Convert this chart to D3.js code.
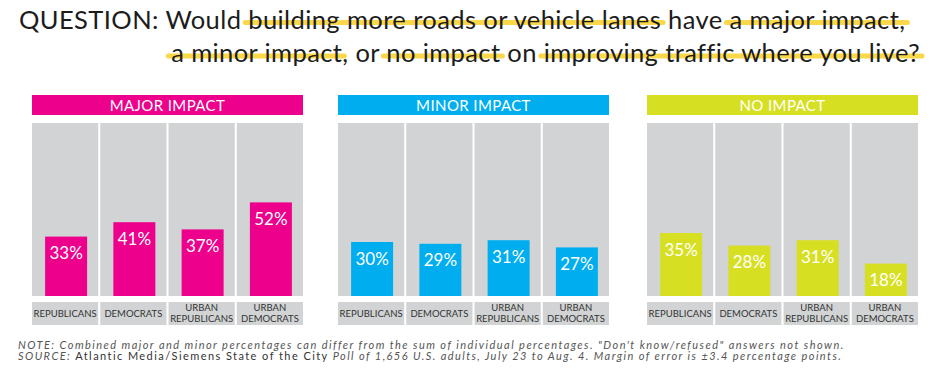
<!DOCTYPE html>
<html>
<head>
<meta charset="utf-8">
<script src="https://cdn.jsdelivr.net/npm/d3@7"></script>
<style>
  html, body { margin: 0; padding: 0; background: #fff; }
  svg { display: block; }
</style>
</head>
<body>
<svg id="chart" width="940" height="369"></svg>
<script>
// ---------------- DATA ----------------
const categories = ["REPUBLICANS", "DEMOCRATS", "URBAN REPUBLICANS", "URBAN DEMOCRATS"];
const categoryLines = [["REPUBLICANS"], ["DEMOCRATS"], ["URBAN", "REPUBLICANS"], ["URBAN", "DEMOCRATS"]];
const panelTitles = ["MAJOR IMPACT", "MINOR IMPACT", "NO IMPACT"];
const majorImpact = [33, 41, 37, 52];
const minorImpact = [30, 29, 31, 27];
const noImpact = [35, 28, 31, 18];
const panelColors = ["#ec008c", "#00aeef", "#d7df23"];
const titleLine1 = [
  { t: "QUESTION: Would ", hl: false },
  { t: "building more roads or vehicle lanes", hl: true },
  { t: " have ", hl: false },
  { t: "a major impact,", hl: true }
];
const titleLine2 = [
  { t: "a minor impact", hl: true },
  { t: ", or ", hl: false },
  { t: "no impact", hl: true },
  { t: " on ", hl: false },
  { t: "improving traffic where you live?", hl: true }
];
const noteLine = [
  { t: "NOTE: Combined major and minor percentages can differ from the sum of individual percentages. \"Don't know/refused\" answers not shown.", it: true }
];
const sourceLine = [
  { t: "SOURCE: ", it: true },
  { t: "Atlantic Media/Siemens State of the City", it: false },
  { t: " Poll of 1,656 U.S. adults, July 23 to Aug. 4. Margin of error is \u00b13.4 percentage points.", it: true }
];

// ---------------- LAYOUT ----------------
const FONT = "Lato, 'Open Sans', sans-serif";
const svg = d3.select("#chart");
const panelSeries = [majorImpact, minorImpact, noImpact];
const panelX = [32, 338, 647];
const panelW = 271;

const y = d3.scaleLinear().domain([0, 100]).range([296, 116]);
const plotTop = 123, plotBottom = 296;
const labelTop = 302, labelBottom = 325;

function fitSpacing(text, width) {
  const node = text.node();
  const w = node.getComputedTextLength();
  const n = node.getNumberOfChars();
  text.attr("letter-spacing", (width - w) / Math.max(1, n - 1));
}

// Title
function drawTitleLine(segments, opts) {
  const g = svg.append("g");
  const hlG = g.append("g");
  const text = g.append("text")
    .attr("x", opts.x).attr("y", opts.y)
    .attr("font-family", FONT)
    .attr("font-size", opts.fs)
    .attr("fill", "#1c1c1c")
    .attr("text-anchor", opts.anchor);
  segments.forEach(s => text.append("tspan").text(s.t));
  fitSpacing(text, opts.width);
  const node = text.node();
  let idx = 0;
  segments.forEach(s => {
    if (s.hl) {
      const st = node.getStartPositionOfChar(idx).x;
      const en = node.getEndPositionOfChar(idx + s.t.length - 1).x;
      hlG.append("line")
        .attr("x1", st - 3).attr("x2", en + 2)
        .attr("y1", opts.y - opts.hlOff).attr("y2", opts.y - opts.hlOff)
        .attr("stroke", "#fbd849")
        .attr("stroke-width", 5)
        .attr("stroke-linecap", "round");
    }
    idx += s.t.length;
  });
}
drawTitleLine(titleLine1, { x: 19, y: 29, fs: 25.5, anchor: "start", width: 886, hlOff: 6.5 });
drawTitleLine(titleLine2, { x: 920, y: 62, fs: 25.5, anchor: "end", width: 747, hlOff: 6 });

// Panels
panelTitles.forEach((title, pi) => {
  const data = panelSeries[pi];
  const color = panelColors[pi];
  const x0 = panelX[pi];
  const x = d3.scaleBand().domain(categories).range([x0, x0 + panelW]).paddingInner(0.03).paddingOuter(0);
  const g = svg.append("g");

  // header
  g.append("rect").attr("x", x0).attr("y", 95).attr("width", panelW).attr("height", 20).attr("fill", color);
  g.append("text")
    .attr("x", x0 + panelW / 2).attr("y", 110.5)
    .attr("text-anchor", "middle")
    .attr("font-family", FONT).attr("font-size", 15)
    .attr("letter-spacing", 0.4)
    .attr("fill", "#fff")
    .text(title);

  // gray columns
  g.selectAll("rect.col").data(categories).enter().append("rect")
    .attr("x", d => x(d)).attr("y", plotTop)
    .attr("width", x.bandwidth()).attr("height", plotBottom - plotTop)
    .attr("fill", "#d1d3d4");

  // bars
  const barW = 42;
  g.selectAll("rect.bar").data(data).enter().append("rect")
    .attr("x", (d, i) => x(categories[i]) + x.bandwidth() / 2 - barW / 2 + 1)
    .attr("y", d => y(d))
    .attr("width", barW)
    .attr("height", d => y(0) - y(d))
    .attr("fill", color);

  // value labels
  g.selectAll("text.val").data(data).enter().append("text")
    .attr("x", (d, i) => x(categories[i]) + x.bandwidth() / 2 + 1)
    .attr("y", d => y(d) + 22.5)
    .attr("text-anchor", "middle")
    .attr("font-family", FONT).attr("font-size", 17)
    .attr("fill", "#fff")
    .text(d => d + "%");

  // category label boxes
  g.selectAll("rect.lab").data(categories).enter().append("rect")
    .attr("x", d => x(d)).attr("y", labelTop)
    .attr("width", x.bandwidth()).attr("height", labelBottom - labelTop)
    .attr("fill", "#d1d3d4");

  categories.forEach((c, i) => {
    const lines = categoryLines[i];
    const cx = x(c) + x.bandwidth() / 2;
    const t = g.append("text")
      .attr("text-anchor", "middle")
      .attr("font-family", FONT).attr("font-size", 9.5)
      .attr("fill", "#333");
    if (lines.length === 1) {
      t.append("tspan").attr("x", cx).attr("y", 317.3).text(lines[0]);
    } else {
      t.append("tspan").attr("x", cx).attr("y", 310.5).text(lines[0]);
      t.append("tspan").attr("x", cx).attr("y", 322.3).text(lines[1]);
    }
  });
});

// Footnotes
function drawNote(segments, yPos, width) {
  const t = svg.append("text")
    .attr("x", 18).attr("y", yPos)
    .attr("font-family", FONT).attr("font-size", 11)
    .attr("fill", "#555");
  segments.forEach(s => {
    t.append("tspan")
      .attr("font-style", s.it ? "italic" : "normal")
      .attr("fill", s.it ? "#555" : "#333")
      .text(s.t);
  });
  fitSpacing(t, width);
}
drawNote(noteLine, 348.5, 825);
drawNote(sourceLine, 360, 823);
</script>
</body>
</html>
